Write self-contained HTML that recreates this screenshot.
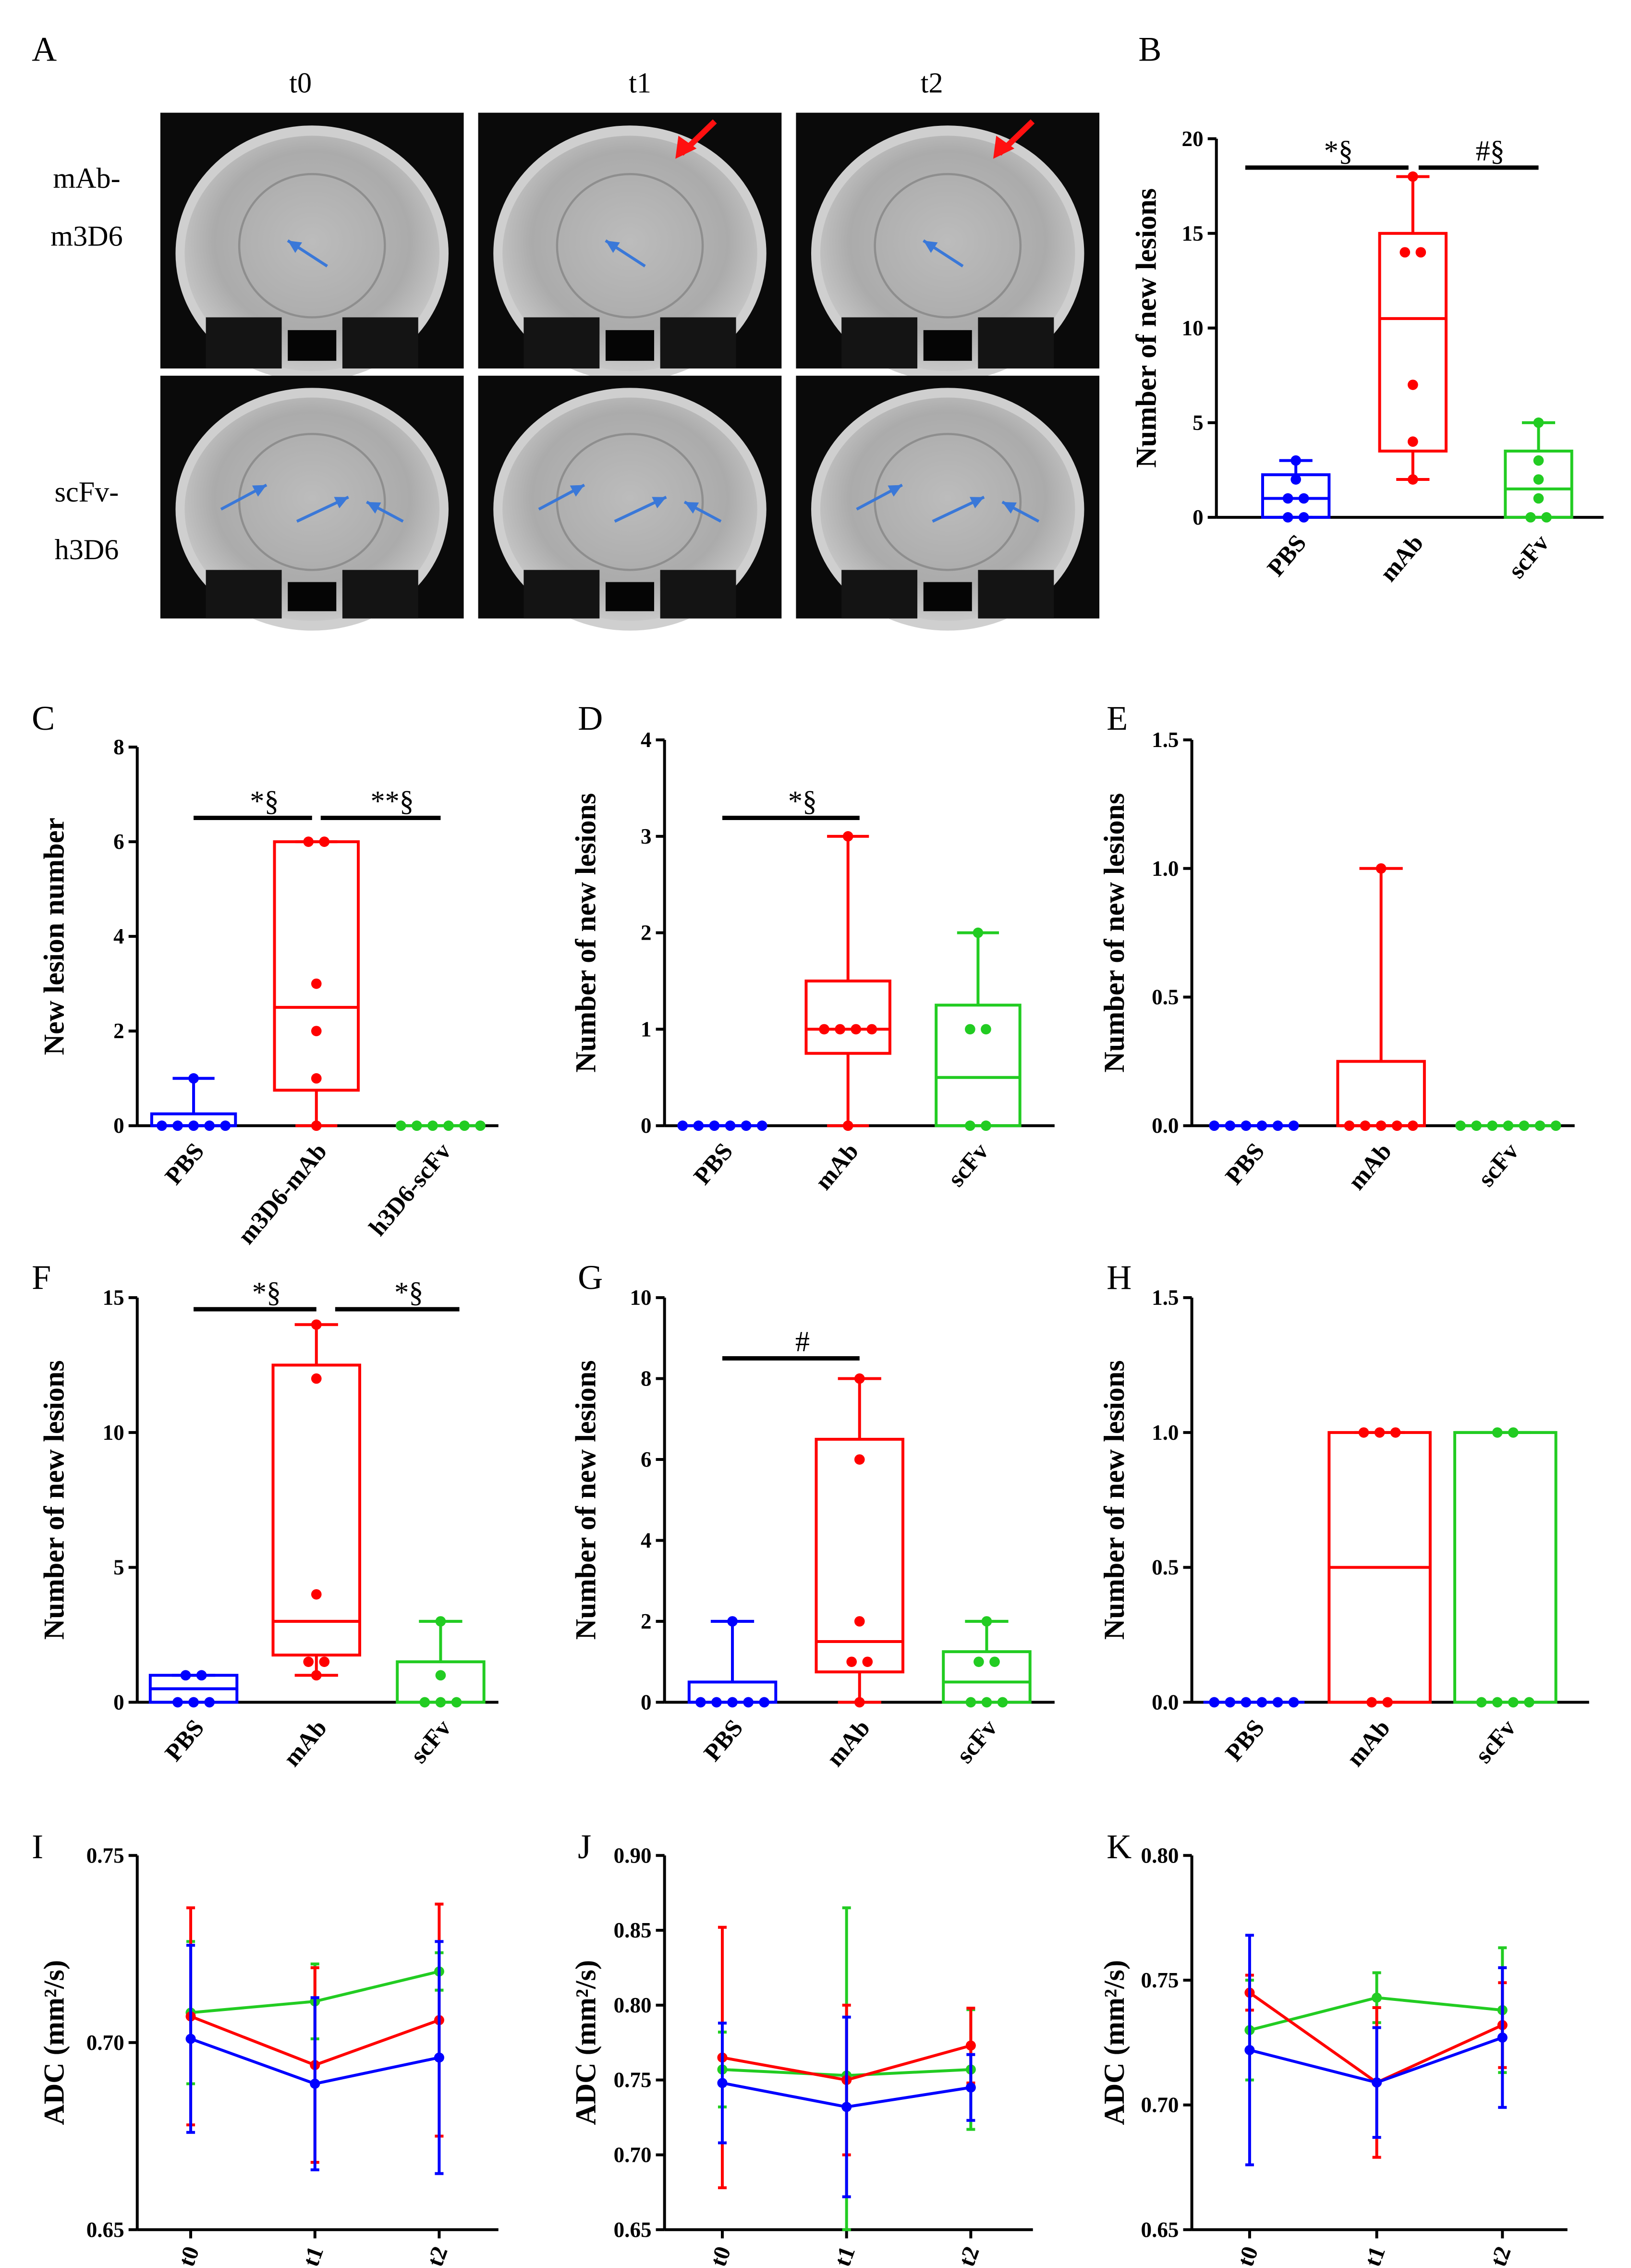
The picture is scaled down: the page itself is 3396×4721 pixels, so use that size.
<!DOCTYPE html>
<html><head><meta charset="utf-8"><style>
html,body{margin:0;padding:0;background:#fff;}
svg{display:block;font-family:"Liberation Serif",serif;}
</style></head><body>
<svg id="fig" xmlns="http://www.w3.org/2000/svg" width="3396" height="4721" viewBox="0 0 1129 1569.5">
<defs>
<radialGradient id="brain" cx="50%" cy="45%" r="55%">
<stop offset="0" stop-color="#bcbcbc"/><stop offset="0.7" stop-color="#ababab"/><stop offset="1" stop-color="#c8c8c8"/>
</radialGradient>
</defs>
<g id="panelA"></g>
<g id="charts"></g>
</svg>
<script>
// ---------- Box plot data ----------
const boxCats_B = ["PBS","mAb","scFv"];
const boxStats_B = [[0,0,1,2.25,3],[2,3.5,10.5,15,18],[0,0,1.5,3.5,5]];
const boxPts_B = [[3,2,1,1,0,0],[18,14,14,7,4,2],[5,3,2,1,0,0]];
const ticks_B = [0,5,10,15,20];

const boxCats_C = ["PBS","m3D6-mAb","h3D6-scFv"];
const boxStats_C = [[0,0,0,0.25,1],[0,0.75,2.5,6,6],[0,0,0,0,0]];
const boxPts_C = [[1,0,0,0,0,0],[6,6,3,2,1,0],[0,0,0,0,0,0]];
const ticks_C = [0,2,4,6,8];

const boxCats_D = ["PBS","mAb","scFv"];
const boxStats_D = [[0,0,0,0,0],[0,0.75,1,1.5,3],[0,0,0.5,1.25,2]];
const boxPts_D = [[0,0,0,0,0,0],[3,1,1,1,1,0],[2,1,1,0,0]];
const ticks_D = [0,1,2,3,4];

const boxCats_E = ["PBS","mAb","scFv"];
const boxStats_E = [[0,0,0,0,0],[0,0,0,0.25,1],[0,0,0,0,0]];
const boxPts_E = [[0,0,0,0,0,0],[1,0,0,0,0,0],[0,0,0,0,0,0,0]];
const ticks_E = [0,0.5,1.0,1.5];

const boxCats_F = ["PBS","mAb","scFv"];
const boxStats_F = [[0,0,0.5,1,1],[1,1.75,3,12.5,14],[0,0,0,1.5,3]];
const boxPts_F = [[1,1,0,0,0],[14,12,4,1.5,1.5,1],[3,1,0,0,0]];
const ticks_F = [0,5,10,15];

const boxCats_G = ["PBS","mAb","scFv"];
const boxStats_G = [[0,0,0,0.5,2],[0,0.75,1.5,6.5,8],[0,0,0.5,1.25,2]];
const boxPts_G = [[2,0,0,0,0,0],[8,6,2,1,1,0],[2,1,1,0,0,0]];
const ticks_G = [0,2,4,6,8,10];

const boxCats_H = ["PBS","mAb","scFv"];
const boxStats_H = [[0,0,0,0,0],[0,0,0.5,1,1],[0,0,1,1,1]];
const boxPts_H = [[0,0,0,0,0,0],[1,1,1,0,0],[1,1,0,0,0,0]];
const ticks_H = [0,0.5,1.0,1.5];

// ---------- Line chart data ----------
const timeCats = ["t0","t1","t2"];
const I_green=[0.708,0.711,0.719], I_greenErr=[0.019,0.010,0.005];
const I_red=[0.707,0.694,0.706], I_redErr=[0.029,0.026,0.031];
const I_blue=[0.701,0.689,0.696], I_blueErr=[0.025,0.023,0.031];
const ticks_I=[0.65,0.70,0.75];
const J_green=[0.757,0.753,0.757], J_greenErr=[0.025,0.112,0.040];
const J_red=[0.765,0.750,0.773], J_redErr=[0.087,0.050,0.025];
const J_blue=[0.748,0.732,0.745], J_blueErr=[0.040,0.060,0.022];
const ticks_J=[0.65,0.70,0.75,0.80,0.85,0.90];
const K_green=[0.730,0.743,0.738], K_greenErr=[0.020,0.010,0.025];
const K_red=[0.745,0.709,0.732], K_redErr=[0.007,0.030,0.017];
const K_blue=[0.722,0.709,0.727], K_blueErr=[0.046,0.022,0.028];
const ticks_K=[0.65,0.70,0.75,0.80];

const NS="http://www.w3.org/2000/svg";
const COLORS=["#0000ff","#ff0000","#22cc22"];
const root=document.getElementById('charts');
function mk(tag,attrs,parent,text){const e=document.createElementNS(NS,tag);for(const k in attrs)e.setAttribute(k,attrs[k]);if(text!==undefined)e.textContent=text;(parent||root).appendChild(e);return e;}

function axes(g,o,ticks,fmt){
  const y=v=>o.y0-(v-ticks[0])/(ticks[ticks.length-1]-ticks[0])*(o.y0-o.y1);
  const ax=mk('line',{x1:o.x0,x2:o.x0,y1:o.y0,y2:o.y1,stroke:'#000','stroke-width':2},g);
  
  
  const xa=mk('line',{x1:o.x0,x2:o.xEnd,y1:o.y0,y2:o.y0,stroke:'#000','stroke-width':2},g);
  
  
  ticks.forEach(t=>{
    mk('line',{x1:o.x0-6,x2:o.x0,y1:y(t),y2:y(t),stroke:'#000','stroke-width':2},g);
    const tl=mk('text',{x:o.x0-9,y:y(t)+5,'text-anchor':'end','font-size':15,'font-weight':'bold'},g,fmt(t));
    
    
  });
  const tt=mk('text',{x:0,y:0,'text-anchor':'middle','font-size':20,'font-weight':'bold',transform:`translate(${o.titleX},${(o.y0+o.y1)/2}) rotate(-90)`},g,o.title);
  
  
  const lab=mk('text',{x:o.labX,y:o.labY,'font-size':24},g,o.label);
  
  
  return y;
}

function boxPanel(o,cats,stats,pts,ticks,fmt){
  const g=mk('g',{});
  
  
  const y=axes(g,o,ticks,fmt);
  cats.forEach((c,i)=>{
    const cx=o.xs[i],col=COLORS[i],w=o.bw,s=stats[i];
    const bg=mk('g',{},g);
    
    
    mk('line',{x1:cx,x2:cx,y1:y(s[4]),y2:y(s[3]),stroke:col,'stroke-width':2},bg);
    mk('line',{x1:cx,x2:cx,y1:y(s[0]),y2:y(s[1]),stroke:col,'stroke-width':2},bg);
    mk('line',{x1:cx-w/4,x2:cx+w/4,y1:y(s[4]),y2:y(s[4]),stroke:col,'stroke-width':2},bg);
    mk('line',{x1:cx-w/4,x2:cx+w/4,y1:y(s[0]),y2:y(s[0]),stroke:col,'stroke-width':2},bg);
    mk('rect',{x:cx-w/2,y:y(s[3]),width:w,height:Math.max(0,y(s[1])-y(s[3])),fill:'none',stroke:col,'stroke-width':2},bg);
    mk('line',{x1:cx-w/2,x2:cx+w/2,y1:y(s[2]),y2:y(s[2]),stroke:col,'stroke-width':2},bg);
    const groups={};pts[i].forEach(v=>{groups[v]=(groups[v]||0)+1;});
    Object.keys(groups).forEach(k=>{
      const n=groups[k],sp=o.ps;
      for(let j=0;j<n;j++){
        const p=mk('circle',{cx:cx+(j-(n-1)/2)*sp,cy:y(+k),r:3.6,fill:col},bg);
        
        
      }
    });
    const xl=mk('text',{x:0,y:0,'text-anchor':'end','font-size':17,'font-weight':'bold',transform:`translate(${cx+8},${o.y0+18}) rotate(-50)`},g,c);
    
    
  });
  (o.sig||[]).forEach(sg=>{
    const ln=mk('line',{x1:sg[0],x2:sg[1],y1:sg[2],y2:sg[2],stroke:'#000','stroke-width':3},g);
    
    
    const st=mk('text',{x:(sg[0]+sg[1])/2+8,y:sg[2]-5,'text-anchor':'middle','font-size':20},g,sg[3]);
    
    
  });
}

function linePanel(o,series,errs,ticks){
  const g=mk('g',{});
  
  
  const y=axes(g,o,ticks,t=>t.toFixed(2));
  const yc=v=>Math.min(o.y0,Math.max(o.y1,y(v)));
  timeCats.forEach((c,i)=>{
    mk('line',{x1:o.xs[i],x2:o.xs[i],y1:o.y0,y2:o.y0+6,stroke:'#000','stroke-width':2},g);
    const xl=mk('text',{x:0,y:0,'text-anchor':'end','font-size':16,'font-weight':'bold',transform:`translate(${o.xs[i]+6},${o.y0+14}) rotate(-70)`},g,c);
    
    
  });
  const order=[2,1,0];
  order.forEach(si=>{
    const col=COLORS[si],vals=series[si],er=errs[si];
    const sg=mk('g',{},g);
    
    
    vals.forEach((v,i)=>{
      mk('line',{x1:o.xs[i],x2:o.xs[i],y1:yc(v+er[i]),y2:yc(v-er[i]),stroke:col,'stroke-width':2},sg);
      mk('line',{x1:o.xs[i]-3,x2:o.xs[i]+3,y1:yc(v+er[i]),y2:yc(v+er[i]),stroke:col,'stroke-width':2},sg);
      mk('line',{x1:o.xs[i]-3,x2:o.xs[i]+3,y1:yc(v-er[i]),y2:yc(v-er[i]),stroke:col,'stroke-width':2},sg);
    });
    mk('polyline',{points:vals.map((v,i)=>o.xs[i]+','+y(v)).join(' '),fill:'none',stroke:col,'stroke-width':2},sg);
    vals.forEach((v,i)=>{const p=mk('circle',{cx:o.xs[i],cy:y(v),r:3.5,fill:col},sg);
      
      });
  });
}

const intF=t=>String(t), decF=t=>t.toFixed(1);
const NL="Number of new lesions";
boxPanel({x0:842,xEnd:1110,y0:358,y1:96,xs:[897,978,1065],bw:46,ps:11,title:NL,titleX:800,label:"B",labX:788,labY:42,
  sig:[[862,975,116,"*§"],[982,1065,116,"#§"]]},boxCats_B,boxStats_B,boxPts_B,ticks_B,intF);
boxPanel({x0:95,xEnd:345,y0:779,y1:517,xs:[134,219,305],bw:58,ps:11,title:"New lesion number",titleX:44,label:"C",labX:22,labY:505,
  sig:[[134,216,566,"*§"],[222,305,566,"**§"]]},boxCats_C,boxStats_C,boxPts_C,ticks_C,intF);
boxPanel({x0:460,xEnd:730,y0:779,y1:512,xs:[500,587,677],bw:58,ps:11,title:NL,titleX:412,label:"D",labX:400,labY:505,
  sig:[[500,595,566,"*§"]]},boxCats_D,boxStats_D,boxPts_D,ticks_D,intF);
boxPanel({x0:825,xEnd:1090,y0:779,y1:512,xs:[868,956,1044],bw:60,ps:11,title:NL,titleX:778,label:"E",labX:766,labY:505},
  boxCats_E,boxStats_E,boxPts_E,ticks_E,decF);
boxPanel({x0:95,xEnd:345,y0:1178,y1:898,xs:[134,219,305],bw:60,ps:11,title:NL,titleX:44,label:"F",labX:22,labY:892,
  sig:[[134,219,906,"*§"],[232,318,906,"*§"]]},boxCats_F,boxStats_F,boxPts_F,ticks_F,intF);
boxPanel({x0:460,xEnd:730,y0:1178,y1:898,xs:[507,595,683],bw:60,ps:11,title:NL,titleX:412,label:"G",labX:400,labY:892,
  sig:[[500,595,940,"#"]]},boxCats_G,boxStats_G,boxPts_G,ticks_G,intF);
boxPanel({x0:825,xEnd:1100,y0:1178,y1:898,xs:[868,955,1042],bw:70,ps:11,title:NL,titleX:778,label:"H",labX:766,labY:892},
  boxCats_H,boxStats_H,boxPts_H,ticks_H,decF);

const ADC="ADC (mm²/s)";
linePanel({x0:95,xEnd:345,y0:1543,y1:1284,xs:[132,218,304],title:ADC,titleX:44,label:"I",labX:22,labY:1286},
  [I_blue,I_red,I_green],[I_blueErr,I_redErr,I_greenErr],ticks_I);
linePanel({x0:460,xEnd:715,y0:1543,y1:1284,xs:[500,586,672],title:ADC,titleX:412,label:"J",labX:400,labY:1286},
  [J_blue,J_red,J_green],[J_blueErr,J_redErr,J_greenErr],ticks_J);
linePanel({x0:825,xEnd:1085,y0:1543,y1:1284,xs:[865,953,1040],title:ADC,titleX:778,label:"K",labX:766,labY:1286},
  [K_blue,K_red,K_green],[K_blueErr,K_redErr,K_greenErr],ticks_K);

// ---------- Panel A (MRI mockups) ----------
const A=document.getElementById('panelA');
mk('text',{x:22,y:42,'font-size':24},A,"A");
[["t0",208],["t1",443],["t2",645]].forEach(c=>{const t=mk('text',{x:c[1],y:64,'text-anchor':'middle','font-size':20},A,c[0]);
  });
[["mAb-",130],["m3D6",170],["scFv-",347],["h3D6",387]].forEach(r=>{mk('text',{x:60,y:r[1],'text-anchor':'middle','font-size':20},A,r[0]);});
const cols=[111,331,551], rows=[[78,177],[260,168]];
rows.forEach((r,ri)=>cols.forEach((cx,ci)=>{
  const g=mk('g',{},A);
  
  
  const w=210,h=r[1],x=cx,yy=r[0];
  mk('rect',{x:x,y:yy,width:w,height:h,fill:'#0a0a0a'},g);
  mk('ellipse',{cx:x+w/2,cy:yy+h*0.55,rx:w*0.45,ry:h*0.5,fill:'#cfcfcf'},g);
  mk('ellipse',{cx:x+w/2,cy:yy+h*0.55,rx:w*0.42,ry:h*0.46,fill:'url(#brain)'},g);
  mk('ellipse',{cx:x+w/2,cy:yy+h*0.52,rx:w*0.24,ry:h*0.28,fill:'none',stroke:'#8e8e8e','stroke-width':1.5},g);
  mk('rect',{x:x+w*0.15,y:yy+h*0.8,width:w*0.25,height:h*0.2,fill:'#141414'},g);
  mk('rect',{x:x+w*0.6,y:yy+h*0.8,width:w*0.25,height:h*0.2,fill:'#141414'},g);
  mk('rect',{x:x+w*0.42,y:yy+h*0.85,width:w*0.16,height:h*0.12,fill:'#050505'},g);
  const arrows = ri===0 ? [[x+w*0.55,yy+h*0.6,x+w*0.42,yy+h*0.5]] :
    [[x+w*0.2,yy+h*0.55,x+w*0.35,yy+h*0.45],[x+w*0.45,yy+h*0.6,x+w*0.62,yy+h*0.5],[x+w*0.8,yy+h*0.6,x+w*0.68,yy+h*0.52]];
  arrows.forEach(a=>{
    mk('line',{x1:a[0],y1:a[1],x2:a[2],y2:a[3],stroke:'#3a78d8','stroke-width':2},g);
    const ang=Math.atan2(a[3]-a[1],a[2]-a[0]),L=10;
    const p1=[a[2]-L*Math.cos(ang-0.45),a[3]-L*Math.sin(ang-0.45)],p2=[a[2]-L*Math.cos(ang+0.45),a[3]-L*Math.sin(ang+0.45)];
    mk('polygon',{points:`${a[2]},${a[3]} ${p1} ${p2}`,fill:'#3a78d8'},g);
  });
  if(ri===0&&ci>0){
    mk('line',{x1:x+w*0.78,y1:yy+6,x2:x+w*0.67,y2:yy+h*0.16,stroke:'#ff1010','stroke-width':4},g);
    mk('polygon',{points:`${x+w*0.65},${yy+h*0.18} ${x+w*0.66},${yy+h*0.09} ${x+w*0.72},${yy+h*0.14}`,fill:'#ff1010'},g);
  }
}));
</script>
</body></html>
